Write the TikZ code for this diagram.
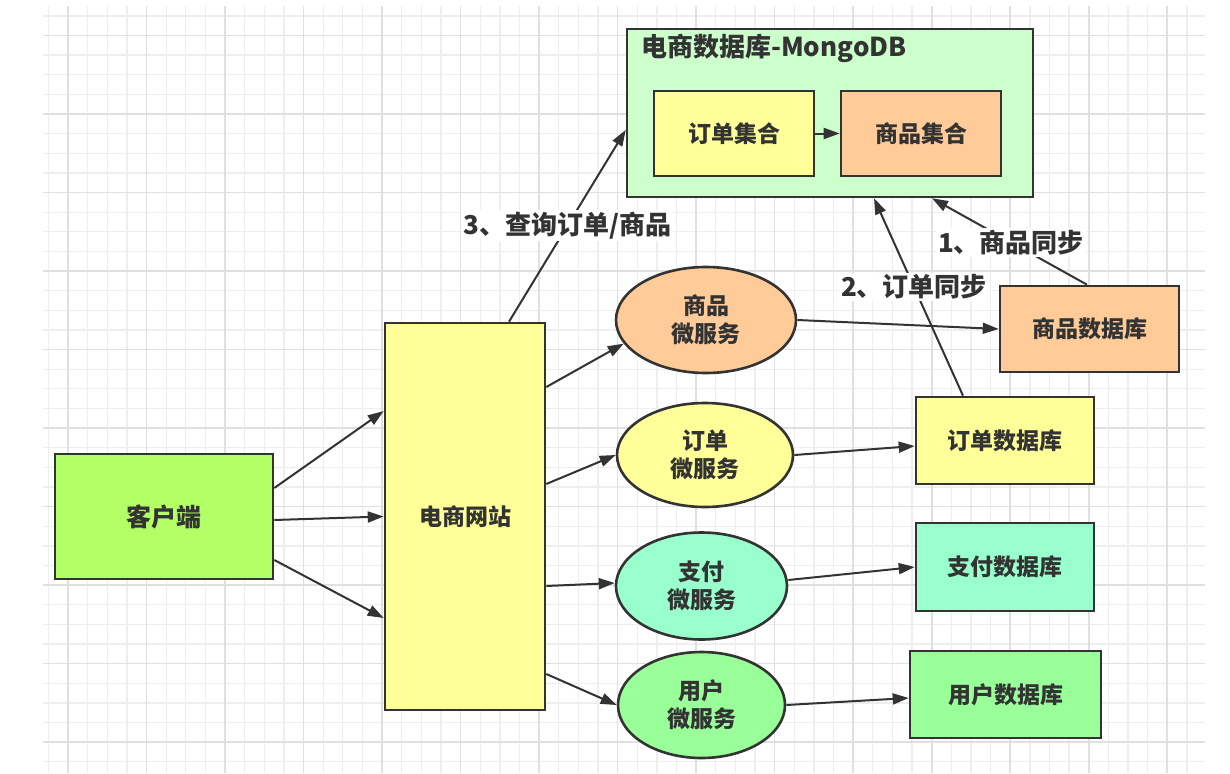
\documentclass[tikz,border=0pt]{standalone}
\usepackage{fontspec}
\setmainfont{Noto Sans CJK SC}
\usetikzlibrary{arrows.meta,shapes.geometric}
\definecolor{linec}{HTML}{333333}
\definecolor{gridthin}{HTML}{EEEEEE}
\definecolor{gridthick}{HTML}{E0E0E0}
\definecolor{clientc}{HTML}{B3FF66}
\definecolor{yellowc}{HTML}{FFFF99}
\definecolor{orangec}{HTML}{FFCC99}
\definecolor{mintc}{HTML}{99FFCC}
\definecolor{greenc}{HTML}{99FF99}
\definecolor{mongoc}{HTML}{CCFFCC}
\begin{document}
\begin{tikzpicture}[x=1pt,y=-1pt,
    box/.style={draw=linec,line width=2.6pt,text=linec,inner sep=0pt,align=center,
      font=\bfseries\fontsize{23}{28}\selectfont},
    svc/.style={box,ellipse},
    link/.style={draw=linec,line width=2pt,-{Triangle[length=16pt,width=11pt]}},
    tag/.style={fill=white,text=linec,inner sep=2pt,font=\bfseries\fontsize{26}{30}\selectfont}]
    \useasboundingbox[fill=white] (0,0) rectangle (1230,773);

    % grid paper
    \foreach \k in {-1,...,57}
      \draw[gridthin,line width=1.3pt] (68+19.63*\k,6) -- (68+19.63*\k,773);
    \foreach \k in {-1,...,37}
      \draw[gridthin,line width=1.3pt] (43,35.5+19.63*\k) -- (1205,35.5+19.63*\k);
    \foreach \k in {0,4,...,56}
      \draw[gridthick,line width=1.6pt] (68+19.63*\k,6) -- (68+19.63*\k,773);
    \foreach \k in {0,4,...,36}
      \draw[gridthick,line width=1.6pt] (43,35.5+19.63*\k) -- (1205,35.5+19.63*\k);

    \node[box,fill=clientc,minimum width=218pt,minimum height=125pt,
      font=\bfseries\fontsize{25}{30}\selectfont] (client) at (164,516.5) {客户端};
    \node[box,fill=yellowc,minimum width=160pt,minimum height=387pt] (site) at (465,516.5) {电商网站};

    \node[box,fill=mongoc,minimum width=406pt,minimum height=168pt] (mongo) at (830,113) {};
    \node[anchor=west,text=linec,inner sep=0pt,font=\bfseries\fontsize{26}{30}\selectfont]
      (mongotitle) at (641,48) {电商数据库-MongoDB};
    \node[box,fill=yellowc,minimum width=160pt,minimum height=85pt] (orderset) at (734,133.5) {订单集合};
    \node[box,fill=orangec,minimum width=160pt,minimum height=85pt] (goodsset) at (921,133.5) {商品集合};

    \node[svc,fill=orangec,minimum width=180pt,minimum height=106pt] (goodssvc) at (706,320) {商品\\微服务};
    \node[svc,fill=yellowc,minimum width=176pt,minimum height=104pt] (ordersvc) at (705,455) {订单\\微服务};
    \node[svc,fill=mintc,minimum width=171pt,minimum height=107pt] (paysvc) at (701.5,586) {支付\\微服务};
    \node[svc,fill=greenc,minimum width=167pt,minimum height=106pt] (usersvc) at (701.5,705) {用户\\微服务};

    \node[box,fill=orangec,minimum width=179pt,minimum height=86pt] (goodsdb) at (1089.5,329) {商品数据库};
    \node[box,fill=yellowc,minimum width=178pt,minimum height=87pt] (orderdb) at (1005,440.5) {订单数据库};
    \node[box,fill=mintc,minimum width=178pt,minimum height=88pt] (paydb) at (1005,567) {支付数据库};
    \node[box,fill=greenc,minimum width=191pt,minimum height=87pt] (userdb) at (1005.5,694.5) {用户数据库};

    \draw[link] ([yshift=28.5pt]client.east) -- ([yshift=105.5pt]site.west);
    \draw[link] ([yshift=-3.5pt]client.east) -- (site.west);
    \draw[link] ([yshift=-43.5pt]client.east) -- ([yshift=-101.5pt]site.west);

    \draw[link] ([yshift=129.5pt]site.east) -- (goodssvc.196);
    \draw[link] ([yshift=32.5pt]site.east) -- (ordersvc.west);
    \draw[link] ([yshift=-69.5pt]site.east) -- ([yshift=3pt]paysvc.west);
    \draw[link] ([yshift=-157.5pt]site.east) -- (usersvc.west);

    \draw[link] (goodssvc.east) -- (goodsdb.west);
    \draw[link] (ordersvc.east) -- ([yshift=-5.5pt]orderdb.west);
    \draw[link] ([yshift=6pt]paysvc.east) -- (paydb.west);
    \draw[link] (usersvc.east) -- ([yshift=-3.5pt]userdb.west);

    \draw[link] (orderset) -- (goodsset);
    \draw[link] ([xshift=44pt]site.north) -- ([yshift=-17pt]mongo.west)
      node[tag,pos=0.5] (querytag) {3、查询订单/商品};
    \draw[link] ([xshift=-42pt]orderdb.north) -- ([xshift=44pt]mongo.south)
      node[tag,pos=0.55] (ordersync) {2、订单同步};
    \draw[link] ([xshift=-2.5pt]goodsdb.north) -- ([xshift=102pt]mongo.south)
      node[tag,pos=0.49] (goodssync) {1、商品同步};
  \end{tikzpicture}
\end{document}
